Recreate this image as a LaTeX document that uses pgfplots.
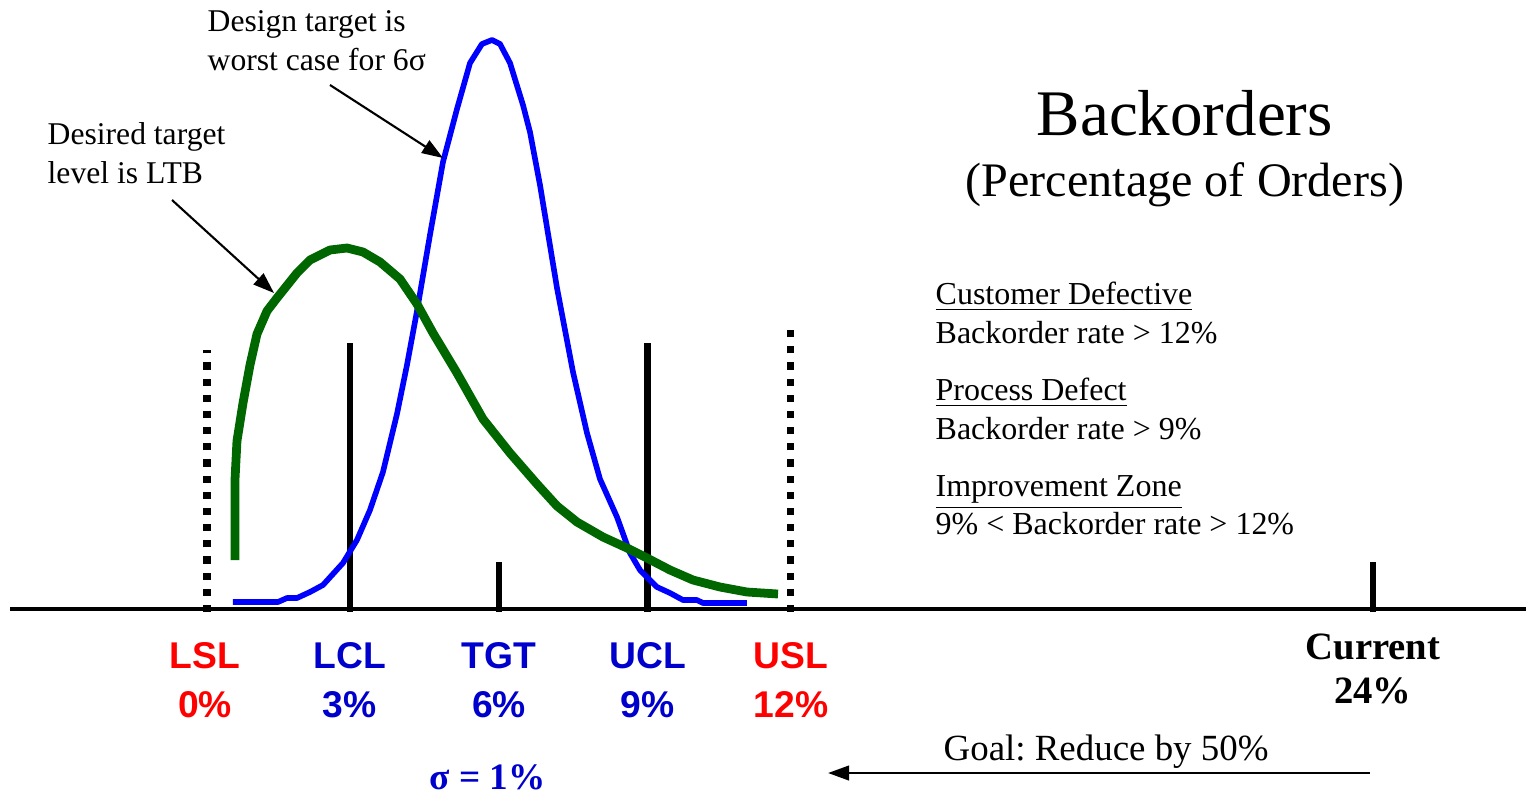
\documentclass[border=0pt]{standalone}
\usepackage{fontspec}
\setmainfont{Liberation Serif}
\newfontfamily\arial{Liberation Sans}
\usepackage{pgfplots}
\pgfplotsset{compat=1.18}
\usetikzlibrary{arrows.meta}
\definecolor{cblue}{RGB}{0,0,255}
\definecolor{lblue}{RGB}{0,0,204}
\definecolor{lred}{RGB}{255,0,0}
\definecolor{dgreen}{RGB}{0,102,0}
\frenchspacing
\begin{document}
\begin{tikzpicture}
\begin{axis}[width=15.26cm,height=7.92cm,scale only axis,
  xmin=-4.259,xmax=27.14,ymin=-183,ymax=609,
  axis lines=none,clip=false]
% baseline
\addplot[black,line width=0.95pt] coordinates {(-4.05,0) (27.14,0)};
% limit lines
\addplot[black,line width=2pt,dash pattern=on 2pt off 2.6pt] coordinates {(0,-3) (0,259)};
\addplot[black,line width=2pt,dash pattern=on 2pt off 2.6pt] coordinates {(12,-3) (12,281)};
\addplot[black,line width=1.9pt] coordinates {(2.94,-3) (2.94,266)};
\addplot[black,line width=1.9pt] coordinates {(9.07,-3) (9.07,266)};
\addplot[black,line width=1.9pt] coordinates {(6.01,-3) (6.01,47)};
\addplot[black,line width=1.9pt] coordinates {(23.99,-3) (23.99,47)};
% blue curve
\addplot[cblue,line width=1.6pt,line join=round] coordinates {
(0.535,7) (1.461,7) (1.646,11) (1.852,11) (2.119,17) (2.387,24) (2.798,46)
(3.086,69) (3.354,99) (3.621,137) (3.909,195) (4.115,244) (4.321,298)
(4.588,374) (4.856,447) (5.144,500) (5.412,546) (5.658,565) (5.864,569)
(6.029,565) (6.235,546) (6.502,504) (6.646,477) (6.852,424) (7.202,321)
(7.531,237) (7.819,176) (8.086,130) (8.436,92) (8.704,56) (8.909,39)
(9.259,22) (9.527,16) (9.794,9) (10.082,9) (10.206,6) (11.111,6)};
% green curve
\addplot[dgreen,line width=2.5pt,line join=round] coordinates {
(0.576,49) (0.576,129) (0.617,168) (0.741,206) (0.885,244) (1.029,275)
(1.235,298) (1.440,311) (1.852,336) (2.119,349) (2.531,359) (2.881,361)
(3.210,357) (3.560,347) (3.971,330) (4.321,305) (4.650,276) (5.144,236)
(5.679,190) (6.235,156) (6.790,125) (7.202,103) (7.613,87) (8.148,72)
(8.642,61) (9.053,51) (9.527,39) (10.0,29) (10.556,22) (11.111,17) (11.749,15)};
% annotations
\node[anchor=base west,inner sep=0,font=\fontsize{9}{10}\selectfont] at (axis cs:0,578) {Design target is};
\node[anchor=base west,inner sep=0,font=\fontsize{9}{10}\selectfont] at (axis cs:0,539) {worst case for 6σ};
\draw[black,line width=0.6pt,-{Triangle[length=6pt,width=4.2pt]}] (axis cs:2.531,524) -- (axis cs:4.856,451);
\node[anchor=base west,inner sep=0,font=\fontsize{9}{10}\selectfont] at (axis cs:-3.292,465) {Desired target};
\node[anchor=base west,inner sep=0,font=\fontsize{9}{10}\selectfont] at (axis cs:-3.292,426) {level is LTB};
\draw[black,line width=0.6pt,-{Triangle[length=6pt,width=4.2pt]}] (axis cs:-0.720,409) -- (axis cs:1.379,316);
% title
\node[anchor=base,inner sep=0,font=\fontsize{18.5}{20}\selectfont] at (axis cs:20.12,474) {Backorders};
\node[anchor=base,inner sep=0,font=\fontsize{13.7}{15}\selectfont] at (axis cs:20.12,413) {(Percentage of Orders)};
% right block
\node[anchor=base west,inner sep=0,font=\fontsize{9.1}{10}\selectfont] at (axis cs:14.979,305) {\underline{Customer Defective}};
\node[anchor=base west,inner sep=0,font=\fontsize{9.1}{10}\selectfont] at (axis cs:14.979,266) {Backorder rate > 12\%};
\node[anchor=base west,inner sep=0,font=\fontsize{9.1}{10}\selectfont] at (axis cs:14.979,209) {\underline{Process Defect}};
\node[anchor=base west,inner sep=0,font=\fontsize{9.1}{10}\selectfont] at (axis cs:14.979,170) {Backorder rate > 9\%};
\node[anchor=base west,inner sep=0,font=\fontsize{9.1}{10}\selectfont] at (axis cs:14.979,113) {\underline{Improvement Zone}};
\node[anchor=base west,inner sep=0,font=\fontsize{9.1}{10}\selectfont] at (axis cs:14.979,75) {9\% < Backorder rate > 12\%};
% category labels
\node[anchor=base,inner sep=0,text=lred,font=\arial\bfseries\fontsize{10.6}{12}\selectfont] at (axis cs:-0.04,-59) {LSL};
\node[anchor=base,inner sep=0,text=lred,font=\arial\bfseries\fontsize{10.6}{12}\selectfont] at (axis cs:-0.04,-108) {0\%};
\node[anchor=base,inner sep=0,text=lblue,font=\arial\bfseries\fontsize{10.6}{12}\selectfont] at (axis cs:2.94,-59) {LCL};
\node[anchor=base,inner sep=0,text=lblue,font=\arial\bfseries\fontsize{10.6}{12}\selectfont] at (axis cs:2.94,-108) {3\%};
\node[anchor=base,inner sep=0,text=lblue,font=\arial\bfseries\fontsize{10.6}{12}\selectfont] at (axis cs:6.01,-59) {TGT};
\node[anchor=base,inner sep=0,text=lblue,font=\arial\bfseries\fontsize{10.6}{12}\selectfont] at (axis cs:6.01,-108) {6\%};
\node[anchor=base,inner sep=0,text=lblue,font=\arial\bfseries\fontsize{10.6}{12}\selectfont] at (axis cs:9.07,-59) {UCL};
\node[anchor=base,inner sep=0,text=lblue,font=\arial\bfseries\fontsize{10.6}{12}\selectfont] at (axis cs:9.07,-108) {9\%};
\node[anchor=base,inner sep=0,text=lred,font=\arial\bfseries\fontsize{10.6}{12}\selectfont] at (axis cs:12.02,-59) {USL};
\node[anchor=base,inner sep=0,text=lred,font=\arial\bfseries\fontsize{10.6}{12}\selectfont] at (axis cs:12.02,-108) {12\%};
\node[anchor=base,inner sep=0,font=\bfseries\fontsize{11}{12}\selectfont] at (axis cs:23.99,-50) {Current};
\node[anchor=base,inner sep=0,font=\bfseries\fontsize{11}{12}\selectfont] at (axis cs:23.99,-94) {24\%};
\node[anchor=base,inner sep=0,font=\fontsize{10.5}{12}\selectfont] at (axis cs:18.5,-151) {Goal: Reduce by 50\%};
\draw[black,line width=0.6pt,-{Triangle[length=6pt,width=4.2pt]}] (axis cs:23.93,-164) -- (axis cs:12.78,-164);
\node[anchor=base,inner sep=0,text=lblue,font=\bfseries\fontsize{10.6}{12}\selectfont] at (axis cs:5.78,-180) {σ = 1\%};
\end{axis}
\pgfresetboundingbox
\path[use as bounding box] (current axis.south west) rectangle (current axis.north east);
\end{tikzpicture}
\end{document}
